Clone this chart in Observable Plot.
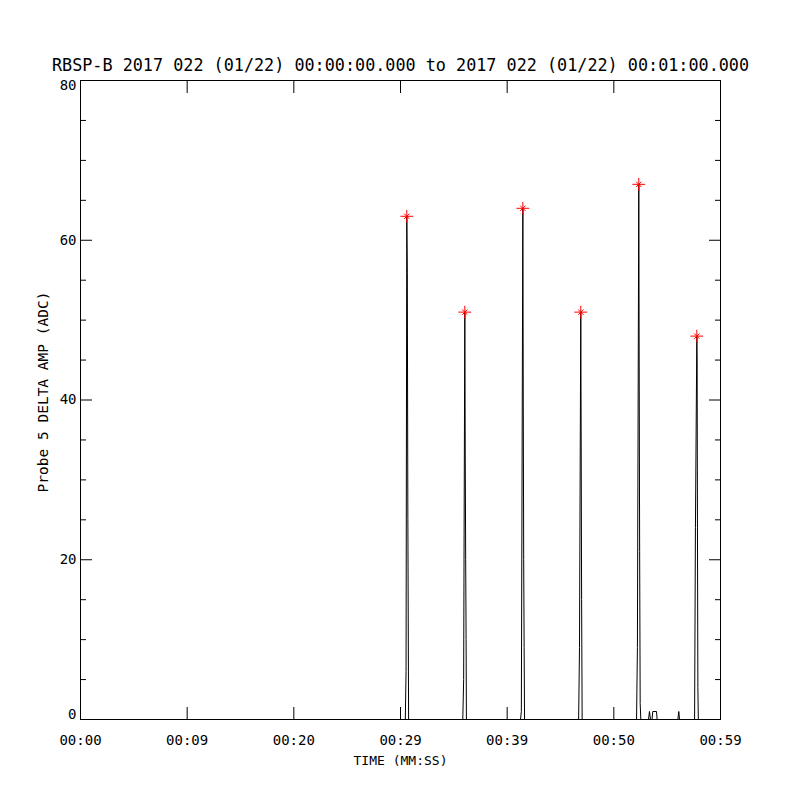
<!DOCTYPE html>
<html><head><meta charset="utf-8">
<script src="https://cdn.jsdelivr.net/npm/d3@7"></script>
<script src="https://cdn.jsdelivr.net/npm/@observablehq/plot@0.6"></script>
<style>html,body{margin:0;padding:0;background:#fff}</style>
</head><body><div id="chart"></div>
<script>
const titleText = "RBSP-B 2017 022 (01/22) 00:00:00.000 to 2017 022 (01/22) 00:01:00.000";
const xLabel = "TIME (MM:SS)";
const yLabel = "Probe 5 DELTA AMP (ADC)";
const xTickValues = [0, 10, 20, 30, 40, 50, 60];
const xTickLabels = ["00:00", "00:09", "00:20", "00:29", "00:39", "00:50", "00:59"];
const yMajorTicks = [0, 20, 40, 60, 80];
const yMinorTicks = [5, 10, 15, 25, 30, 35, 45, 50, 55, 65, 70, 75];

// trace samples (seconds, ADC)
const timeSec = [
  0,
  30.45, 30.52, 30.59, 30.64, 30.69, 30.76,
  35.84, 35.92, 36.03, 36.07, 36.11, 36.15, 36.18,
  41.25, 41.33, 41.47, 41.51, 41.55, 41.59, 41.63,
  46.70, 46.78, 46.90, 46.94, 46.98, 47.03,
  52.13, 52.21, 52.34, 52.38, 52.42, 52.47, 52.53,
  53.25, 53.34, 53.44,
  53.58, 53.65, 54.00, 54.06,
  56.00, 56.09, 56.16,
  57.57, 57.65, 57.78, 57.81, 57.84, 57.88, 57.92,
  60
];
const amp = [
  0,
  0, 6, 63, 56, 25, 0,
  0, 5, 51, 33, 20, 10, 0,
  0, 1, 64, 39, 20, 9, 0,
  0, 9, 51, 34, 15, 0,
  0, 9, 67, 42, 21, 2, 0,
  0, 1, 0,
  0, 1, 1, 0,
  0, 1, 0,
  0, 24, 48, 45, 24, 4, 0,
  0
];
const peakTime = [30.59, 36.03, 41.47, 46.90, 52.34, 57.78];
const peakAmp = [63, 51, 64, 51, 67, 48];

const trace = timeSec.map((t, i) => ({t, v: amp[i]}));
const peaks = peakTime.map((t, i) => ({t, v: peakAmp[i]}));
const fmtX = d => xTickLabels[xTickValues.indexOf(d)];
const yLow = yMajorTicks.slice(0, 1);
const yMid = yMajorTicks.slice(1, -1);
const yTop = yMajorTicks.slice(-1);

const chart = Plot.plot({
  width: 800, height: 800,
  marginLeft: 80, marginRight: 80, marginTop: 80, marginBottom: 81,
  x: {domain: [0, 60]},
  y: {domain: [0, 80]},
  style: {fontFamily: "'DejaVu Sans Mono', monospace", fontSize: "14px", color: "black", background: "white"},
  marks: [
    Plot.frame({stroke: "black"}),
    Plot.line(trace, {x: "t", y: "v", stroke: "black", strokeWidth: 1}),
    Plot.dot(peaks, {x: "t", y: "v", symbol: "plus", r: 4.2, stroke: "red", strokeWidth: 1}),
    Plot.dot(peaks, {x: "t", y: "v", symbol: "times", r: 2.5, stroke: "red", strokeWidth: 1}),
    // y tick marks (inward, both sides)
    Plot.axisY({ticks: yMajorTicks, tickSize: -12, fill: "none", label: null}),
    Plot.axisY({ticks: yMinorTicks, tickSize: -6, fill: "none", label: null}),
    Plot.axisY({anchor: "right", ticks: yMajorTicks, tickSize: -12, fill: "none", label: null}),
    Plot.axisY({anchor: "right", ticks: yMinorTicks, tickSize: -6, fill: "none", label: null}),
    // y tick labels
    Plot.axisY({ticks: yMid, tickSize: 0, tickPadding: 4, tickFormat: d => String(d), label: null, fontSize: 14}),
    Plot.axisY({ticks: yTop, tickSize: 0, tickPadding: 4, dy: 5, tickFormat: d => String(d), label: null, fontSize: 14}),
    Plot.axisY({ticks: yLow, tickSize: 0, tickPadding: 4, dy: -5, tickFormat: d => String(d), label: null, fontSize: 14}),
    // x tick marks + labels
    Plot.axisX({ticks: xTickValues, tickSize: -12, fill: "none", label: null}),
    Plot.axisX({anchor: "top", ticks: xTickValues, tickSize: -12, fill: "none", label: null}),
    Plot.axisX({ticks: xTickValues, tickSize: 0, tickPadding: 16, tickFormat: fmtX, label: null, fontSize: 14}),
    Plot.text([titleText], {text: d => d, frameAnchor: "top", lineAnchor: "middle", dy: -15, fontSize: 16.8}),
    Plot.text([xLabel], {text: d => d, frameAnchor: "bottom", lineAnchor: "middle", dy: 41, fontSize: 13}),
    Plot.text([yLabel], {text: d => d, frameAnchor: "left", textAnchor: "middle", lineAnchor: "middle", dx: -37, dy: -8, rotate: -90, fontSize: 14.5})
  ]
});
document.getElementById("chart").appendChild(chart);
</script>
</body></html>
